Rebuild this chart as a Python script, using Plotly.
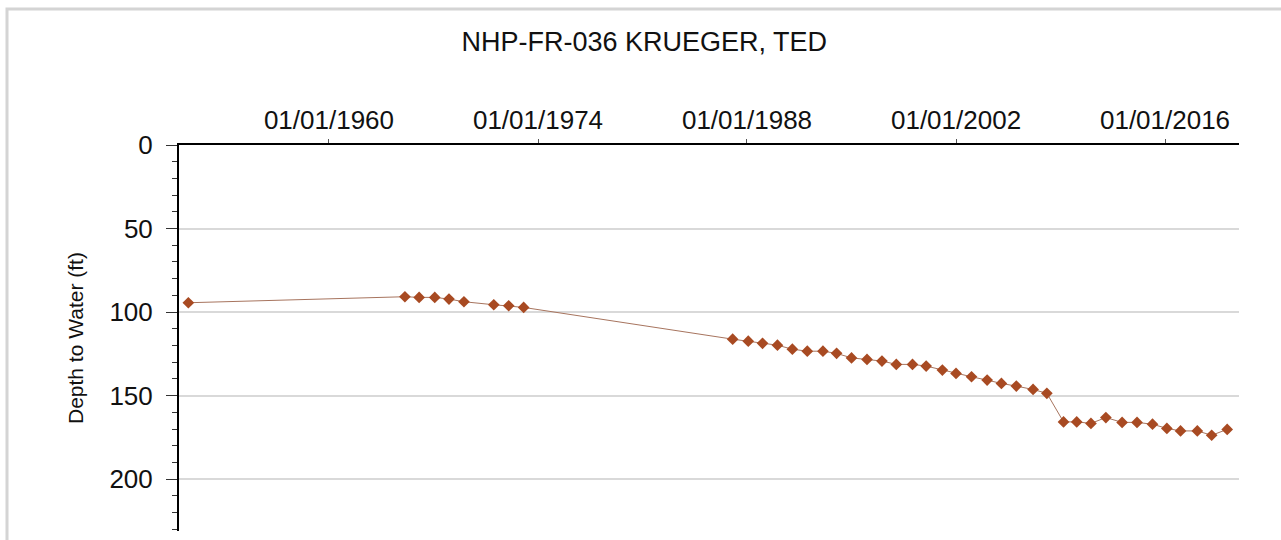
import plotly.graph_objects as go

# Well NHP-FR-036 water level record
dates = [
    "1950-08-01",
    "1965-02-01", "1966-01-15", "1967-02-01", "1968-01-15", "1969-01-15",
    "1971-01-15", "1972-01-15", "1973-01-15",
    "1987-01-15", "1988-02-01", "1989-01-15", "1990-01-15", "1991-01-15",
    "1992-01-15", "1993-02-01", "1994-01-01", "1995-01-01", "1996-01-15",
    "1997-01-15", "1998-01-01", "1999-02-01", "2000-01-01", "2001-02-01",
    "2002-01-01", "2003-01-15", "2004-02-01", "2005-01-15", "2006-01-15",
    "2007-03-01", "2008-02-01",
    "2009-03-15", "2010-02-01", "2011-01-15", "2012-01-15", "2013-02-15",
    "2014-02-15", "2015-03-01", "2016-02-15", "2017-01-15", "2018-03-01",
    "2019-02-15", "2020-03-01",
]
depth_ft = [
    94.4,
    90.8, 91.2, 91.2, 92.2, 93.8,
    95.6, 96.2, 97.2,
    116.2, 117.4, 118.7, 119.8, 122.2,
    123.4, 123.4, 124.7, 127.4, 128.3,
    129.3, 131.3, 131.3, 132.3, 134.7,
    136.7, 138.7, 140.7, 142.7, 144.3,
    146.3, 148.6,
    165.7, 165.7, 166.6, 163.1, 166.0,
    166.0, 167.1, 169.6, 171.1, 171.1,
    173.7, 170.2,
]
y_ticks = [0, 50, 100, 150, 200]

title_text = "NHP-FR-036 KRUEGER, TED"
y_title = "Depth to Water (ft)"

font_family = "Liberation Sans, Arial, sans-serif"

fig = go.Figure()
fig.add_trace(go.Scatter(
    x=dates,
    y=depth_ft,
    mode="lines+markers",
    line=dict(color="#a7745e", width=1),
    marker=dict(symbol="diamond", size=9, color="#a84a22",
                line=dict(width=0)),
    showlegend=False,
))

fig.update_layout(
    width=1281,
    height=540,
    margin=dict(l=179, r=42, t=145, b=9),
    paper_bgcolor="white",
    plot_bgcolor="white",
    font=dict(family=font_family, color="#111111"),
    title=dict(
        text=title_text,
        x=0.503,
        xanchor="center",
        y=1 - 42 / 540,
        yanchor="middle",
        font=dict(size=27, family=font_family, color="#111111"),
    ),
    xaxis=dict(
        type="date",
        side="top",
        range=["1949-12-15", "2020-12-15"],
        tick0="1960-01-01",
        dtick="M168",
        tickformat="%m/%d/%Y",
        showgrid=False,
        zeroline=False,
        showline=True,
        linecolor="black",
        linewidth=2,
        ticks="outside",
        ticklen=4,
        tickcolor="#555555",
        ticklabelstandoff=0,
        tickfont=dict(size=26, family=font_family, color="#111111"),
    ),
    yaxis=dict(
        range=[231, 0],
        tickvals=y_ticks,
        showgrid=True,
        gridcolor="#d9d9d9",
        gridwidth=2,
        zeroline=False,
        showline=True,
        linecolor="black",
        linewidth=2,
        ticks="outside",
        ticklen=11,
        tickcolor="#333333",
        ticklabelstandoff=8,
        tickfont=dict(size=26, family=font_family, color="#111111"),
        minor=dict(dtick=10, ticks="outside", ticklen=5,
                   tickcolor="#333333", showgrid=False),
    ),
    annotations=[dict(
        text=y_title,
        xref="paper", yref="paper",
        x=(75 - 179) / 1060, y=0.5,
        xanchor="center", yanchor="middle",
        textangle=-90,
        showarrow=False,
        font=dict(size=21, family=font_family, color="#111111"),
    )],
    shapes=[dict(
        type="rect",
        xref="paper", yref="paper",
        x0=(7 - 179) / 1060, x1=(1295 - 179) / 1060,
        y0=(531 - 560) / 386, y1=(531 - 9) / 386,
        line=dict(color="#d4d4d4", width=3),
        fillcolor="rgba(0,0,0,0)",
        layer="below",
    )],
)

fig.write_html("out.html", config={"displayModeBar": False})
